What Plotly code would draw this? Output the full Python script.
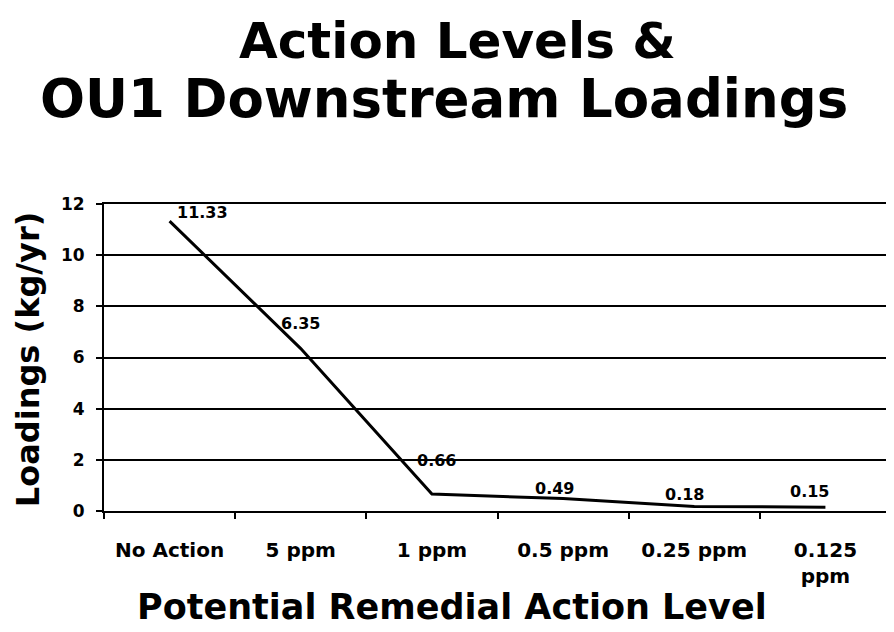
import plotly.graph_objects as go

categories = ["No Action", "5 ppm", "1 ppm", "0.5 ppm", "0.25 ppm", "0.125<br>ppm"]
loadings = [11.33, 6.35, 0.66, 0.49, 0.18, 0.15]
value_labels = ["11.33", "6.35", "0.66", "0.49", "0.18", "0.15"]
y_ticks = [0, 2, 4, 6, 8, 10, 12]

# label offsets (pixels) relative to each point
label_dx = [33, 0, 5, -9, -10, -16]
label_dy = [9, 25, 34, 10, 12, 16]

# page is rendered with an 8px body margin
OFF = 8
W, H = 886, 624
L, R, T, B = 96, 1, 196, 121
PW, PH = W - L - R, H - T - B

def px_x(x):  # page pixel -> paper
    return (x - OFF - L) / PW

def px_y(y):
    return (OFF + T + PH - y) / PH

fig = go.Figure()
fig.add_trace(go.Scatter(
    x=categories, y=loadings, mode="lines",
    line=dict(color="black", width=3), cliponaxis=False, showlegend=False,
))

for c, v, t, dx, dy in zip(categories, loadings, value_labels, label_dx, label_dy):
    fig.add_annotation(x=c, y=v, text=t, showarrow=False, xshift=dx, yshift=dy,
                       font=dict(family="DejaVu Sans", size=16, color="black", weight="bold"))

fig.update_layout(
    width=W, height=H,
    margin=dict(l=L, r=R, t=T, b=B),
    paper_bgcolor="white", plot_bgcolor="white",
    xaxis=dict(
        type="category", range=[-0.5, 5.5], tickson="boundaries",
        ticks="outside", ticklen=6, tickwidth=2, tickcolor="black",
        showline=True, linecolor="black", linewidth=2, mirror=True, showgrid=False,
        ticklabelstandoff=20,
        tickfont=dict(family="DejaVu Sans", size=20, color="black", weight="bold"),
    ),
    yaxis=dict(
        range=[0, 12], tickvals=y_ticks, ticks="outside", ticklen=6, tickwidth=2,
        tickcolor="black", showline=True, linecolor="black", linewidth=2, mirror=True,
        showgrid=True, gridcolor="black", gridwidth=2, zeroline=False,
        ticklabelstandoff=8,
        tickfont=dict(family="DejaVu Sans", size=17, color="black", weight="bold"),
    ),
)

fig.add_annotation(text="Action Levels &", x=px_x(458), y=px_y(41), xref="paper", yref="paper",
                   showarrow=False, xanchor="center", yanchor="middle",
                   font=dict(family="DejaVu Sans", size=50, color="black", weight="bold"))
fig.add_annotation(text="OU1 Downstream Loadings", x=px_x(445), y=px_y(98), xref="paper", yref="paper",
                   showarrow=False, xanchor="center", yanchor="middle",
                   font=dict(family="DejaVu Sans", size=53, color="black", weight="bold"))
fig.add_annotation(text="Loadings (kg/yr)", x=px_x(28), y=px_y(360), xref="paper", yref="paper",
                   showarrow=False, textangle=-90, xanchor="center", yanchor="middle",
                   font=dict(family="DejaVu Sans", size=32, color="black", weight="bold"))
fig.add_annotation(text="Potential Remedial Action Level", x=px_x(453), y=px_y(607), xref="paper", yref="paper",
                   showarrow=False, xanchor="center", yanchor="middle",
                   font=dict(family="DejaVu Sans", size=35, color="black", weight="bold"))

fig.write_html("out.html")
